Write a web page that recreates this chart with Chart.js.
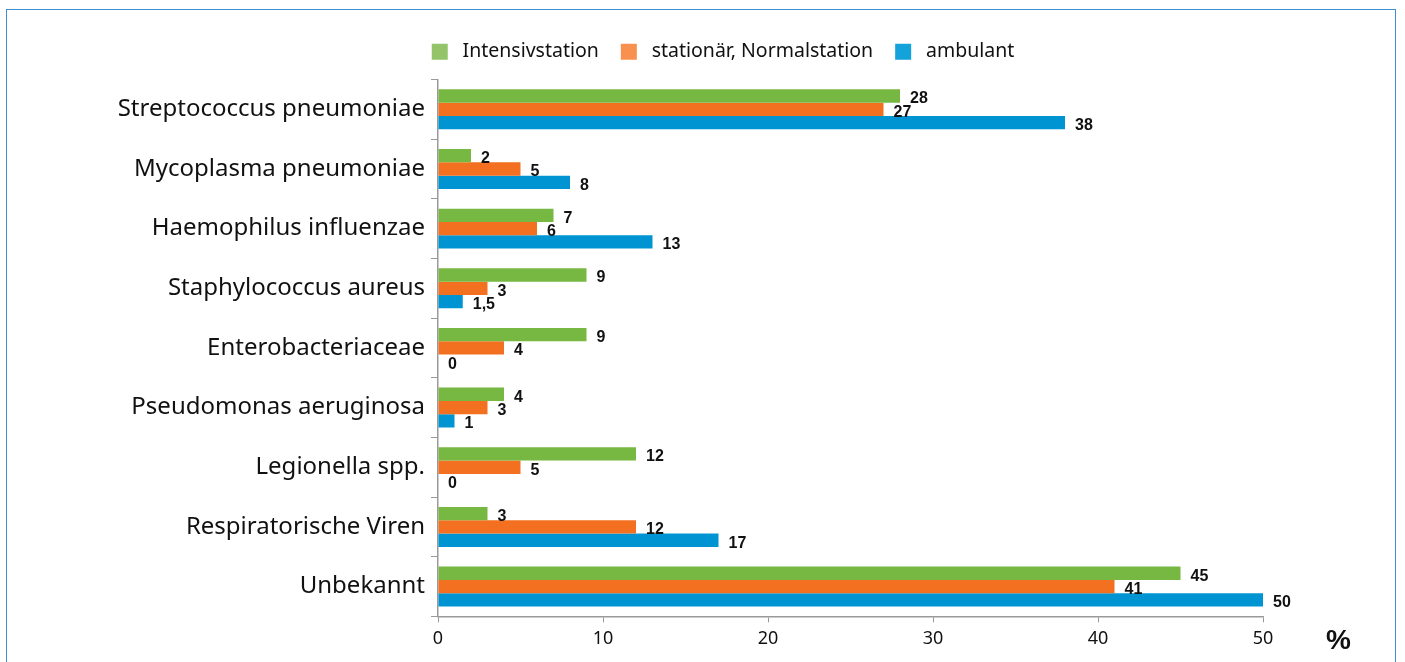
<!DOCTYPE html>
<html>
<head>
<meta charset="utf-8">
<script src="https://cdn.jsdelivr.net/npm/chart.js"></script>
<style>
  html, body { margin: 0; padding: 0; background: #fff; }
  #wrap { position: relative; width: 1405px; height: 662px; }
  #frame { position: absolute; left: 6px; top: 9px; width: 1390px; height: 660px;
           border: 1px solid #3f8fd2; border-bottom: none; box-sizing: border-box; }
  #pct { position: absolute; left: 1326px; top: 624px; font: bold 28px "Liberation Sans", Arial, sans-serif; color: #111; }
</style>
</head>
<body>
<div id="wrap">
  <div id="frame"></div>
  <canvas id="erregerChart" width="1405" height="662"></canvas>
  <div id="pct">%</div>
</div>
<script>
const categories = [
  'Streptococcus pneumoniae',
  'Mycoplasma pneumoniae',
  'Haemophilus influenzae',
  'Staphylococcus aureus',
  'Enterobacteriaceae',
  'Pseudomonas aeruginosa',
  'Legionella spp.',
  'Respiratorische Viren',
  'Unbekannt'
];
const seriesNames = ['Intensivstation', 'stationär, Normalstation', 'ambulant'];
const intensiv = [28, 2, 7, 9, 9, 4, 12, 3, 45];
const normal = [27, 5, 6, 3, 4, 3, 5, 12, 41];
const ambulant = [38, 8, 13, 1.5, 0, 1, 0, 17, 50];
const xTicks = [0, 10, 20, 30, 40, 50];

const barColors = ['#77b843', '#f37021', '#0095d2'];
const legendColors = ['#93c46a', '#f8914f', '#13a3da'];

// value labels next to the bar ends
const valueLabels = {
  id: 'valueLabels',
  afterDatasetsDraw(chart) {
    const ctx = chart.ctx;
    ctx.save();
    ctx.font = 'bold 16px "Liberation Sans", Arial, sans-serif';
    ctx.fillStyle = '#111';
    ctx.textAlign = 'left';
    ctx.textBaseline = 'middle';
    chart.data.datasets.forEach((ds, i) => {
      chart.getDatasetMeta(i).data.forEach((bar, j) => {
        const txt = String(ds.data[j]).replace('.', ',');
        ctx.fillText(txt, bar.x + 10, bar.y + 3);
      });
    });
    ctx.restore();
  }
};

// a bit more room below the legend
const legendGap = {
  id: 'legendGap',
  beforeInit(chart) {
    const fit = chart.legend.fit;
    chart.legend.fit = function() {
      fit.bind(chart.legend)();
      this.height += 8;
    };
  }
};

const ctx = document.getElementById('erregerChart').getContext('2d');
const erregerChart = new Chart(ctx, {
  type: 'bar',
  data: {
    labels: categories,
    datasets: [
      { label: seriesNames[0], data: intensiv, backgroundColor: barColors[0] },
      { label: seriesNames[1], data: normal, backgroundColor: barColors[1] },
      { label: seriesNames[2], data: ambulant, backgroundColor: barColors[2] }
    ]
  },
  options: {
    indexAxis: 'y',
    responsive: false,
    animation: false,
    categoryPercentage: 0.67,
    barPercentage: 1,
    layout: {
      padding: { top: 20, right: 0, bottom: 6, left: 41 }
    },
    plugins: {
      legend: {
        display: true,
        position: 'top',
        labels: {
          boxWidth: 16,
          boxHeight: 16,
          padding: 22,
          color: '#111',
          font: { family: '"Noto Sans", sans-serif', size: 19.5 },
          generateLabels(chart) {
            return chart.data.datasets.map((ds, i) => ({
              text: ' ' + ds.label,
              fillStyle: legendColors[i],
              strokeStyle: legendColors[i],
              lineWidth: 0,
              datasetIndex: i,
              fontColor: '#111'
            }));
          }
        }
      },
      tooltip: { enabled: false }
    },
    scales: {
      x: {
        min: 0,
        max: 50,
        afterBuildTicks(axis) {
          axis.ticks = xTicks.map(v => ({ value: v }));
        },
        grid: {
          drawOnChartArea: false,
          tickLength: 6,
          color: '#9a9a9a'
        },
        border: { color: '#9a9a9a', width: 1.5 },
        ticks: {
          padding: 6,
          color: '#111',
          font: { family: '"Noto Sans", sans-serif', size: 18 }
        }
      },
      y: {
        offset: true,
        afterFit(axis) {
          axis.width = 397;
        },
        grid: {
          offset: true,
          drawOnChartArea: false,
          tickLength: 7,
          color: '#9a9a9a'
        },
        border: { color: '#9a9a9a', width: 1.5 },
        ticks: {
          padding: 6,
          color: '#111',
          font: { family: '"Noto Sans", sans-serif', size: 24 }
        }
      },
      // empty right-hand space reserved for the "%" unit
      yRight: {
        type: 'linear',
        position: 'right',
        display: true,
        ticks: { display: false },
        grid: { display: false },
        border: { display: false },
        afterFit(axis) {
          axis.width = 142;
        }
      }
    }
  },
  plugins: [valueLabels, legendGap]
});
</script>
</body>
</html>
